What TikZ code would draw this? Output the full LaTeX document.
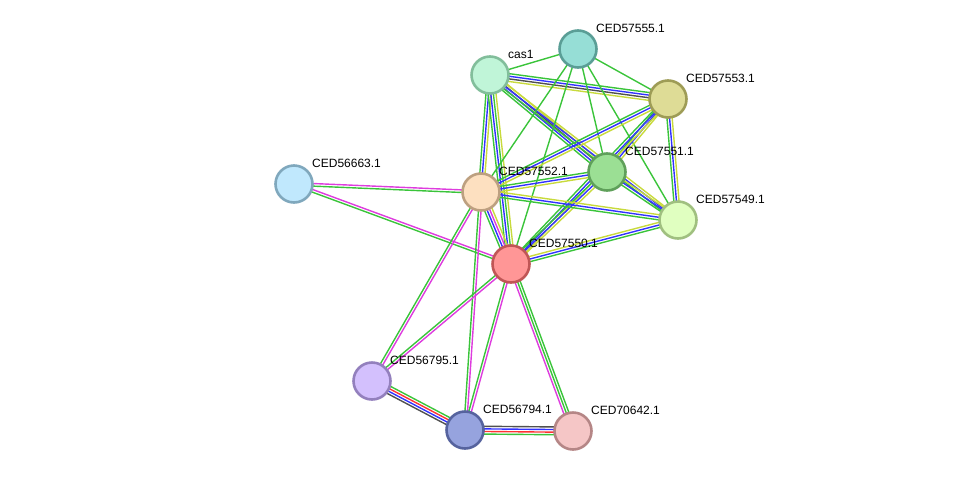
\documentclass[tikz,border=0pt]{standalone}
\usepackage{fontspec}
\setmainfont{Liberation Sans}
\usepackage{tikz}
\usetikzlibrary{calc, backgrounds}

\definecolor{nbgreen}{RGB}{58,196,58}
\definecolor{tmyellow}{RGB}{200,218,60}
\definecolor{cooc}{RGB}{50,50,255}
\definecolor{coexp}{RGB}{80,80,80}
\definecolor{expmag}{RGB}{222,60,222}
\definecolor{fusred}{RGB}{255,50,50}

\tikzset{
  prot/.style={circle, draw, line width=2.6pt, minimum size=37pt, inner sep=0pt},
  lbl/.style={font=\fontsize{12}{14}\selectfont, inner sep=3pt, xshift=1pt, yshift=-1pt},
  edgeline/.style={line width=1.4pt}
}

% parallel coloured lines between two proteins
\newcommand{\links}[3]{%
  \xdef\nlines{0}%
  \foreach \c in {#3}{\xdef\nlines{\the\numexpr\nlines+1\relax}}%
  \foreach \c [count=\i] in {#3}{%
    \pgfmathsetmacro\off{(\i-(\nlines+1)/2)*2.6}%
    \draw[\c, edgeline] ($(#1)!\off pt!90:(#2)$) -- ($(#2)!\off pt!-90:(#1)$);
  }%
}

\begin{document}
\begin{tikzpicture}[x=1pt, y=-1pt]
\useasboundingbox (0,0) rectangle (976,477);

\node[prot, fill={rgb,255:red,192;green,245;blue,216}, draw={rgb,255:red,130;green,190;blue,155},
  label={[lbl]45:cas1}] (cas1) at (490,75) {};
\node[prot, fill={rgb,255:red,150;green,222;blue,214}, draw={rgb,255:red,90;green,158;blue,150},
  label={[lbl]45:CED57555.1}] (c555) at (578,49) {};
\node[prot, fill={rgb,255:red,222;green,220;blue,150}, draw={rgb,255:red,158;green,156;blue,86},
  label={[lbl]45:CED57553.1}] (c553) at (668,99) {};
\node[prot, fill={rgb,255:red,155;green,223;blue,148}, draw={rgb,255:red,95;green,160;blue,90},
  label={[lbl]45:CED57551.1}] (c551) at (607,172) {};
\node[prot, fill={rgb,255:red,224;green,255;blue,192}, draw={rgb,255:red,160;green,192;blue,128},
  label={[lbl]45:CED57549.1}] (c549) at (678,220) {};
\node[prot, fill={rgb,255:red,253;green,224;blue,192}, draw={rgb,255:red,189;green,160;blue,128},
  label={[lbl]45:CED57552.1}] (c552) at (481,192) {};
\node[prot, fill={rgb,255:red,192;green,232;blue,253}, draw={rgb,255:red,128;green,168;blue,189},
  label={[lbl]45:CED56663.1}] (c663) at (294,184) {};
\node[prot, fill={rgb,255:red,255;green,150;blue,150}, draw={rgb,255:red,192;green,86;blue,86},
  label={[lbl]45:CED57550.1}] (c550) at (511,264) {};
\node[prot, fill={rgb,255:red,211;green,192;blue,253}, draw={rgb,255:red,147;green,128;blue,189},
  label={[lbl]45:CED56795.1}] (c795) at (372,381) {};
\node[prot, fill={rgb,255:red,150;green,163;blue,222}, draw={rgb,255:red,86;green,99;blue,158},
  label={[lbl]45:CED56794.1}] (c794) at (465,430) {};
\node[prot, fill={rgb,255:red,245;green,198;blue,198}, draw={rgb,255:red,181;green,134;blue,134},
  label={[lbl]45:CED70642.1}] (c642) at (573,431) {};

\begin{pgfonlayer}{background}
% cas1
\links{cas1}{c555}{nbgreen}
\links{cas1}{c553}{tmyellow,coexp,cooc,nbgreen}
\links{cas1}{c551}{nbgreen,cooc,coexp,tmyellow}
\links{cas1}{c549}{nbgreen,cooc,tmyellow}
\links{cas1}{c552}{nbgreen,cooc,tmyellow}
\links{cas1}{c550}{nbgreen,cooc,nbgreen,tmyellow}
% CED57555.1
\links{c555}{c553}{nbgreen}
\links{c555}{c551}{nbgreen}
\links{c555}{c549}{nbgreen}
\links{c555}{c552}{nbgreen}
\links{c555}{c550}{nbgreen}
% operon block
\links{c553}{c551}{nbgreen,cooc,tmyellow}
\links{c553}{c549}{nbgreen,cooc,tmyellow}
\links{c553}{c552}{nbgreen,cooc,tmyellow}
\links{c553}{c550}{nbgreen,cooc,tmyellow}
\links{c551}{c549}{nbgreen,cooc,tmyellow}
\links{c551}{c552}{nbgreen,cooc,tmyellow}
\links{c551}{c550}{nbgreen,cooc,tmyellow}
\links{c552}{c549}{nbgreen,cooc,tmyellow}
\links{c550}{c549}{nbgreen,cooc,tmyellow}
\links{c552}{c550}{nbgreen,cooc,expmag,tmyellow}
% experiments
\links{c663}{c552}{nbgreen,expmag}
\links{c663}{c550}{nbgreen,expmag}
\links{c552}{c795}{nbgreen,expmag}
\links{c552}{c794}{nbgreen,expmag}
\links{c550}{c795}{nbgreen,expmag}
\links{c550}{c794}{nbgreen,expmag}
\links{c550}{c642}{expmag,nbgreen,nbgreen}
% lower pair
\links{c795}{c794}{coexp,cooc,fusred,nbgreen}
\links{c794}{c642}{nbgreen,fusred,cooc,coexp}
\end{pgfonlayer}
\end{tikzpicture}
\end{document}
